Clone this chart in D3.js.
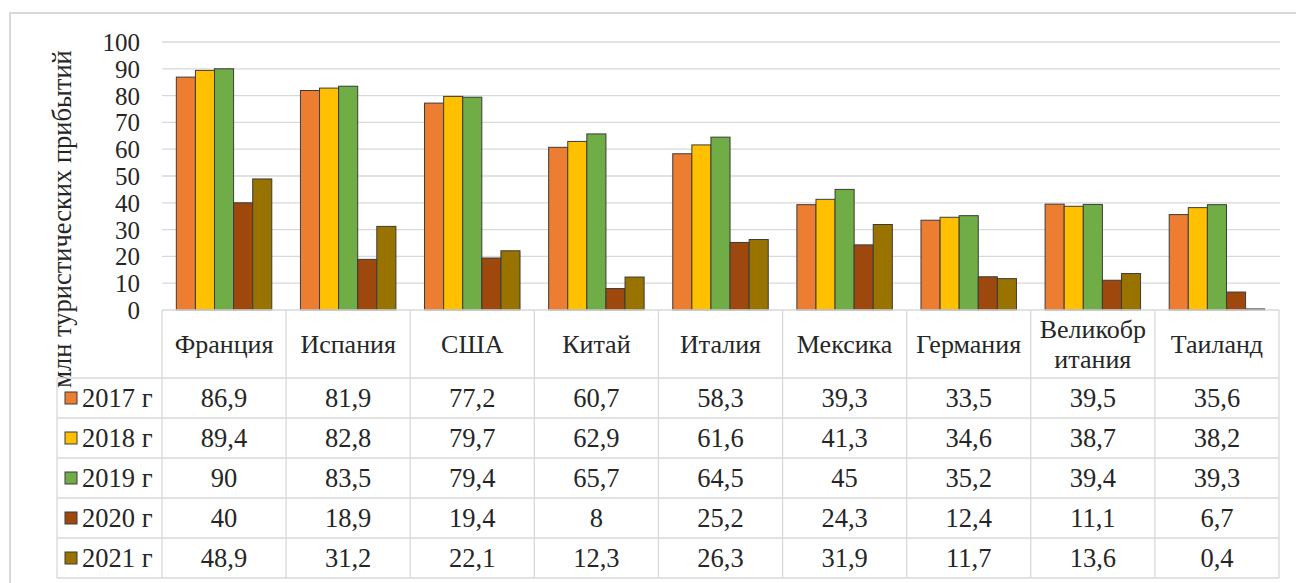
<!DOCTYPE html>
<html>
<head>
<meta charset="utf-8">
<script src="https://cdn.jsdelivr.net/npm/d3@7"></script>
</head>
<body style="margin:0">
<script>
(function() {

    // data
    var countries = ["Франция", "Испания", "США", "Китай", "Италия", "Мексика", "Германия", "Великобритания", "Таиланд"];
    var headerLines = [["Франция"], ["Испания"], ["США"], ["Китай"], ["Италия"], ["Мексика"], ["Германия"], ["Великобр", "итания"], ["Таиланд"]];
    var years = ["2017 г", "2018 г", "2019 г", "2020 г", "2021 г"];
    var v2017 = [86.9, 81.9, 77.2, 60.7, 58.3, 39.3, 33.5, 39.5, 35.6];
    var v2018 = [89.4, 82.8, 79.7, 62.9, 61.6, 41.3, 34.6, 38.7, 38.2];
    var v2019 = [90, 83.5, 79.4, 65.7, 64.5, 45, 35.2, 39.4, 39.3];
    var v2020 = [40, 18.9, 19.4, 8, 25.2, 24.3, 12.4, 11.1, 6.7];
    var v2021 = [48.9, 31.2, 22.1, 12.3, 26.3, 31.9, 11.7, 13.6, 0.4];
    var colors = ["#ED7D31", "#FFC000", "#70AD47", "#9E480E", "#997300"];
    var yTicks = [0, 10, 20, 30, 40, 50, 60, 70, 80, 90, 100];
    var yTitle = "млн туристических прибытий";

    var series = [v2017, v2018, v2019, v2020, v2021];

    var FONT = "'Liberation Serif'";
    var ink = "#262626";

    var width = 1296,
        height = 583;

    var svg = d3.select("body")
        .append("svg")
        .attr("width", width)
        .attr("height", height)
        .style("font-family", FONT)

    function serif(sel, size) {
        return sel.style("font-family", FONT)
            .style("font-size", size + "px")
            .attr("fill", ink)
    }

    // outer frame
    svg.append("path")
        .attr("d", "M10," + height + "V13H" + width)
        .attr("fill", "none")
        .attr("stroke", "#d9d9d9")
        .attr("stroke-width", 2)

    var x = d3.scaleBand().domain(countries).range([162, 1279]).paddingInner(0).paddingOuter(0)
    var xIn = d3.scaleBand().domain(years).range([0, x.bandwidth()]).paddingInner(0).paddingOuter(0.75)
    var y = d3.scaleLinear().domain([0, 100]).range([310, 42])

    // gridlines
    svg.append("g")
        .selectAll("line")
        .data(yTicks.filter(function(d) { return d > 0; }))
        .enter().append("line")
        .attr("x1", 162)
        .attr("x2", 1280)
        .attr("y1", function(d) { return y(d); })
        .attr("y2", function(d) { return y(d); })
        .attr("stroke", "#d9d9d9")
        .attr("stroke-width", 1.3)

    // y axis labels
    var yAxis = d3.axisLeft(y).tickValues(yTicks).tickSize(0).tickPadding(0)
    var yg = svg.append("g")
        .attr("transform", "translate(140,0)")
        .call(yAxis)
        .attr("font-family", null)
    yg.select(".domain").remove()
    serif(yg.selectAll("text"), 25)
        .attr("dy", "0.34em")

    serif(svg.append("text"), 26.5)
        .attr("transform", "translate(71,219) rotate(-90)")
        .attr("text-anchor", "middle")
        .text(yTitle)

    // bars
    var groups = svg.append("g")
        .selectAll("g")
        .data(series)
        .enter().append("g")
        .attr("fill", function(d, i) { return colors[i]; })

    groups.each(function(vals, i) {
        d3.select(this).selectAll("rect")
            .data(vals)
            .enter().append("rect")
            .attr("x", function(d, j) { return x(countries[j]) + xIn(years[i]); })
            .attr("width", xIn.bandwidth())
            .attr("y", function(d) { return y(d); })
            .attr("height", function(d) { return y(0) - y(d); })
            .attr("stroke", "#3b3b3b")
            .attr("stroke-width", 1)
    })

    // data table
    var rowTop = 378, rowH = 40, tableRight = 1279, legendLeft = 57;
    var grid = svg.append("g").attr("stroke", "#d9d9d9").attr("stroke-width", 1.3)
    grid.append("line").attr("x1", 162).attr("x2", tableRight).attr("y1", 310).attr("y2", 310)
    for (var r = 0; r <= years.length; r++) {
        grid.append("line")
            .attr("x1", legendLeft).attr("x2", tableRight)
            .attr("y1", rowTop + r * rowH).attr("y2", rowTop + r * rowH)
    }
    grid.append("line").attr("x1", legendLeft).attr("x2", legendLeft).attr("y1", rowTop).attr("y2", rowTop + years.length * rowH)
    countries.forEach(function(c) {
        grid.append("line").attr("x1", x(c)).attr("x2", x(c)).attr("y1", 310).attr("y2", rowTop + years.length * rowH)
    })
    grid.append("line").attr("x1", tableRight).attr("x2", tableRight).attr("y1", 310).attr("y2", rowTop + years.length * rowH)

    // header, each line its own text
    headerLines.forEach(function(lines, i) {
        var cx = x(countries[i]) + x.bandwidth() / 2;
        lines.forEach(function(l, k) {
            serif(svg.append("text"), 26)
                .attr("text-anchor", "middle")
                .attr("x", cx)
                .attr("y", 344 - (lines.length - 1) * 15 + k * 30)
                .attr("dy", "0.34em")
                .text(l)
        })
    })

    // rows
    series.forEach(function(vals, i) {
        var cy = rowTop + i * rowH + rowH / 2;
        svg.append("rect")
            .attr("x", 65).attr("y", cy - 6)
            .attr("width", 12).attr("height", 12)
            .attr("fill", colors[i])
            .attr("stroke", "#3b3b3b")
            .attr("stroke-width", 1)
        serif(svg.append("text"), 26.5)
            .attr("x", 82).attr("y", cy)
            .attr("dy", "0.34em")
            .text(years[i])
        serif(svg.append("g")
            .selectAll("text")
            .data(vals)
            .enter().append("text"), 26.5)
            .attr("text-anchor", "middle")
            .attr("x", function(d, j) { return x(countries[j]) + x.bandwidth() / 2; })
            .attr("y", cy)
            .attr("dy", "0.34em")
            .text(function(d) { return String(d).replace(".", ","); })
    })

})();
</script>
</body>
</html>
